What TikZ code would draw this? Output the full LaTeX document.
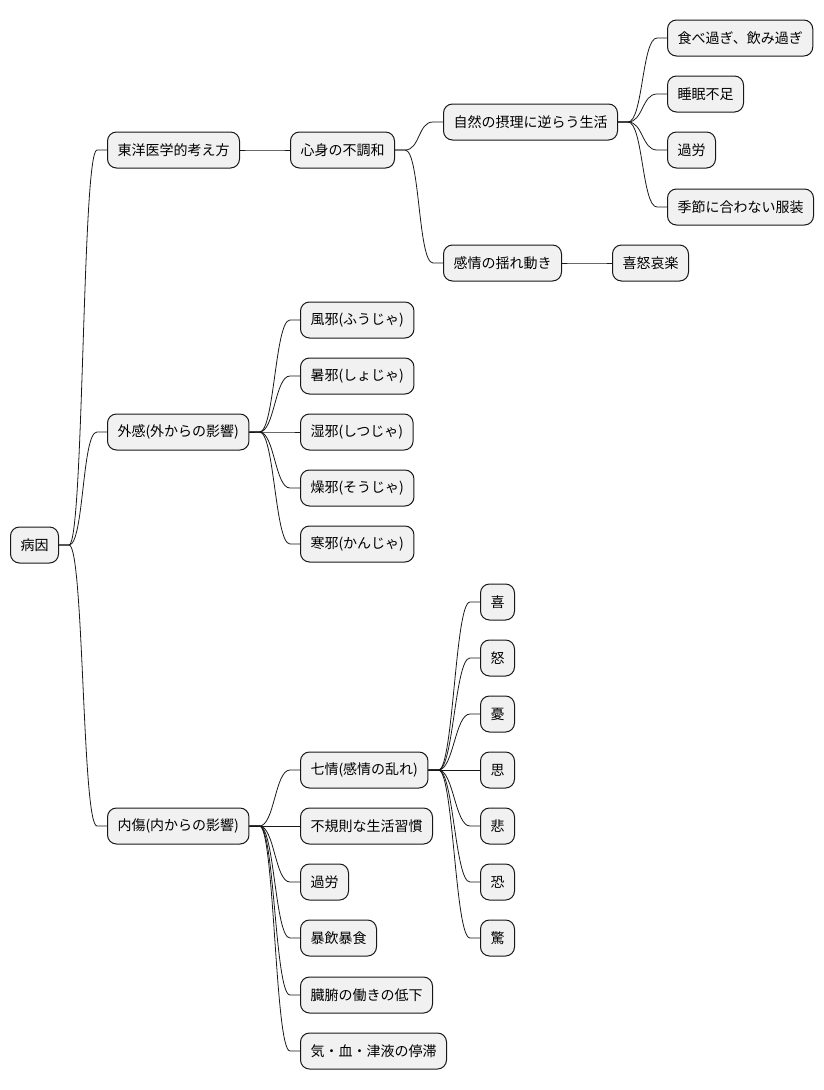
\documentclass[tikz,border=0pt]{standalone}
\usepackage{fontspec}
\setmainfont{Noto Sans CJK JP}
\usetikzlibrary{shapes.geometric, arrows}
\definecolor{boxfill}{HTML}{F1F1F1}
\definecolor{boxline}{HTML}{181818}
\tikzstyle{topic} = [rectangle, rounded corners=9pt, draw=boxline, line width=1pt, fill=boxfill, minimum height=36pt, inner xsep=10pt, anchor=west, font=\fontsize{14}{17}\selectfont]
\tikzstyle{link} = [draw=boxline, line width=0.8pt]
\newcommand{\linkto}[2]{\draw [link] (#1.east) -- ++(10pt,0) to[out=0,in=180,distance=15pt] ([xshift=-10pt]#2.west) -- (#2.west);}

\begin{document}
\begin{tikzpicture}[x=1pt, y=-1pt]
    \useasboundingbox (0,0) rectangle (824,1090);
    \node [topic] at (10,545) (root) {病因};
    \node [topic] at (107,150) (toyo) {東洋医学的考え方};
    \node [topic] at (290,150) (shinshin) {心身の不調和};
    \node [topic] at (443,122) (shizen) {自然の摂理に逆らう生活};
    \node [topic] at (667,38) (tabe) {食べ過ぎ、飲み過ぎ};
    \node [topic] at (667,94) (suimin) {睡眠不足};
    \node [topic] at (667,150) (karou) {過労};
    \node [topic] at (667,207) (kisetsu) {季節に合わない服装};
    \node [topic] at (443,263) (yure) {感情の揺れ動き};
    \node [topic] at (612,263) (kido) {喜怒哀楽};
    \node [topic] at (107,432) (gaikan) {外感(外からの影響)};
    \node [topic] at (300,320) (fuja) {風邪(ふうじゃ)};
    \node [topic] at (300,376) (shoja) {暑邪(しょじゃ)};
    \node [topic] at (300,432) (shitsuja) {湿邪(しつじゃ)};
    \node [topic] at (300,488) (soja) {燥邪(そうじゃ)};
    \node [topic] at (300,544) (kanja) {寒邪(かんじゃ)};
    \node [topic] at (107,826) (naisho) {内傷(内からの影響)};
    \node [topic] at (300,770) (shichijo) {七情(感情の乱れ)};
    \node [topic] at (480,602) (ki) {喜};
    \node [topic] at (480,658) (do) {怒};
    \node [topic] at (480,714) (yu) {憂};
    \node [topic] at (480,770) (shi) {思};
    \node [topic] at (480,826) (hi) {悲};
    \node [topic] at (480,882) (kyo) {恐};
    \node [topic] at (480,938) (kyoi) {驚};
    \node [topic] at (300,826) (fukisoku) {不規則な生活習慣};
    \node [topic] at (300,882) (karou2) {過労};
    \node [topic] at (300,938) (boin) {暴飲暴食};
    \node [topic] at (300,995) (zofu) {臓腑の働きの低下};
    \node [topic] at (300,1051) (teitai) {気・血・津液の停滞};
    \linkto{root}{toyo}
    \linkto{toyo}{shinshin}
    \linkto{shinshin}{shizen}
    \linkto{shizen}{tabe}
    \linkto{shizen}{suimin}
    \linkto{shizen}{karou}
    \linkto{shizen}{kisetsu}
    \linkto{shinshin}{yure}
    \linkto{yure}{kido}
    \linkto{root}{gaikan}
    \linkto{gaikan}{fuja}
    \linkto{gaikan}{shoja}
    \linkto{gaikan}{shitsuja}
    \linkto{gaikan}{soja}
    \linkto{gaikan}{kanja}
    \linkto{root}{naisho}
    \linkto{naisho}{shichijo}
    \linkto{shichijo}{ki}
    \linkto{shichijo}{do}
    \linkto{shichijo}{yu}
    \linkto{shichijo}{shi}
    \linkto{shichijo}{hi}
    \linkto{shichijo}{kyo}
    \linkto{shichijo}{kyoi}
    \linkto{naisho}{fukisoku}
    \linkto{naisho}{karou2}
    \linkto{naisho}{boin}
    \linkto{naisho}{zofu}
    \linkto{naisho}{teitai}
\end{tikzpicture}
\end{document}
